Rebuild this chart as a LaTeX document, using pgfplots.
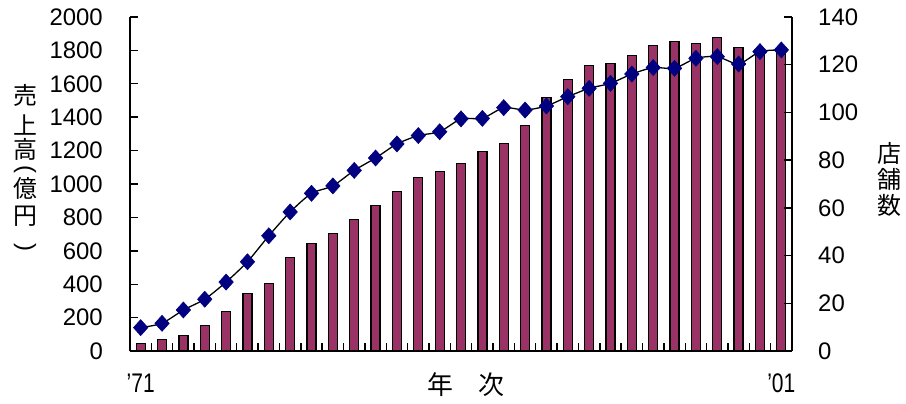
\documentclass[border=0pt]{standalone}
\usepackage{pgfplots}
\pgfplotsset{compat=1.18}
\usepackage{pgfplotstable}
\usepackage{fontspec}
\setmainfont{Liberation Sans}
\newfontfamily\cjk{Noto Sans CJK JP}
\newfontfamily\narrowfont[FakeStretch=0.78]{Liberation Sans}
\definecolor{barc}{HTML}{993366}
\definecolor{navyc}{HTML}{000080}

\pgfplotstableread{
x sales stores
0 46 9.8
1 70 11.6
2 94 17.2
3 154 21.7
4 238 28.9
5 346 37.4
6 405 48.3
7 561 58.3
8 645 66.1
9 705 69.2
10 789 75.7
11 873 80.9
12 956 86.8
13 1040 90.3
14 1076 91.9
15 1124 97.3
16 1196 97.5
17 1244 102
18 1352 101
19 1519 102.7
20 1627 106.6
21 1711 110.1
22 1723 112.2
23 1771 116.1
24 1831 118.8
25 1855 118.5
26 1843 122.7
27 1879 123.4
28 1817 120.3
29 1800 125.5
30 1810 126.2
}\datatable

\pgfplotsset{
  common/.style={
    at={(130bp,52bp)}, anchor=south west,
    scale only axis, width=662bp, height=334bp,
    xmin=-0.5, xmax=30.5,
    tick align=inside, major tick length=8bp, minor tick length=8bp,
    axis line style={line width=1.6bp},
    every tick/.style={line width=1.4bp, black},
    tick label style={font=\fontsize{24}{24}\selectfont},
    /pgf/number format/assume math mode=true,
  }
}

\begin{document}
\begin{tikzpicture}[x=1bp,y=1bp]
\path[use as bounding box] (0,0) rectangle (906,403);
\begin{axis}[common,
  ymin=0, ymax=2000,
  axis y line*=left, axis x line*=bottom,
  ytick={0,200,...,2000},
  yticklabel style={anchor=east, inner sep=0pt, xshift=-27bp},
  xtick={0,30}, xticklabels={’71,’01},
  major x tick style={draw=none},
  minor xtick={-0.5,0.5,...,30.5},
  xticklabel style={anchor=center, inner sep=0pt, yshift=-32bp, font=\narrowfont\fontsize{27}{27}\selectfont},
  scaled y ticks=false,
  yticklabel={\pgfmathprintnumber[fixed,1000 sep={}]{\tick}},
]
\addplot[ybar, bar width=9bp, fill=barc, draw=black, line width=1.3bp] table[x=x,y=sales]{\datatable};
\end{axis}
\begin{axis}[common,
  ymin=0, ymax=140,
  axis y line*=right, axis x line=none,
  ytick={0,20,...,140},
  yticklabel style={anchor=west, inner sep=0pt, xshift=26bp},
]
\addplot[black, line width=1.3bp, smooth, tension=0.4, mark=diamond*, mark size=8bp,
  mark options={xscale=1.2, fill=navyc, draw=navyc, line width=0.6bp}] table[x=x,y=stores]{\datatable};
\end{axis}
\begin{scope}[every node/.style={inner sep=0pt, font=\cjk\fontsize{24}{24}\selectfont}]
\node at (25,308) {売};
\node at (25,278) {上};
\node at (25,254) {高};
\node[rotate=-90, font=\fontsize{24}{24}\selectfont] at (25,234) {(};
\node at (25,214.5) {億};
\node at (25,186.5) {円};
\node[rotate=-90, font=\fontsize{24}{24}\selectfont] at (25,155.5) {)};
\end{scope}
\node[align=center, inner sep=0pt, font=\cjk\fontsize{24}{26}\selectfont] at (889,223.5) {店\\舗\\数};
\node[inner sep=0pt, font=\cjk\fontsize{26}{26}\selectfont] at (466,18) {年　次};
\end{tikzpicture}
\end{document}
